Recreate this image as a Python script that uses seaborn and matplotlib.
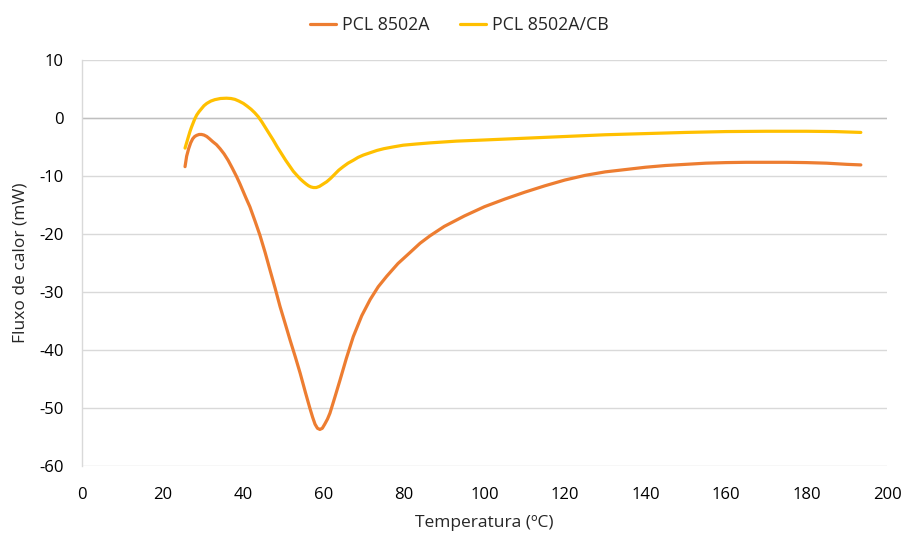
import numpy as np
import pandas as pd
import matplotlib
matplotlib.use("Agg")
import matplotlib.pyplot as plt
import seaborn as sns

# DSC heat-flow curves (temperature in ºC, heat flow in mW)
temp_pcl = [25.6, 26.0, 26.5, 27.0, 27.5, 28.0, 28.5, 29.1, 29.7, 30.3, 31, 31.7, 32.5,
            33.4, 34.3, 35.3, 36.3, 37.3, 38.4, 39.2, 40, 40.8, 41.7, 43, 44.2,
            45.5, 46.7, 48, 49.2, 50.5, 51.7, 53, 54.2, 55.5, 56.6, 57.3, 57.9, 58.5,
            59.1, 59.7, 60.3, 61.0, 61.6, 62.8, 64.1, 65.7, 67.4, 69.5, 71.6, 73.6, 75.7,
            78.5, 81.5, 84, 86.5, 90, 95, 100, 105, 110, 115, 120, 125, 130, 135, 140,
            145, 150, 155, 160, 165, 170, 175, 180, 185, 190, 193.5]
flow_pcl = [-8.4, -6.6, -5.3, -4.3, -3.6, -3.2, -3.0, -2.85, -2.85, -2.95, -3.2, -3.6, -4.1,
            -4.6, -5.3, -6.2, -7.3, -8.6, -10.1, -11.3, -12.6, -13.9, -15.3, -17.8,
            -20.2, -23.2, -26.2, -29.4, -32.5, -35.5, -38.3, -41.2, -44.0, -47.3, -50.0,
            -51.6, -52.8, -53.5, -53.7, -53.5, -52.8, -51.9, -50.9, -48.2, -45.2, -41.4,
            -37.7, -34.1, -31.3, -29.1, -27.3, -25.1, -23.2, -21.6, -20.3, -18.7, -16.9,
            -15.3, -14.0, -12.8, -11.7, -10.7, -9.9, -9.3, -8.9, -8.5, -8.2, -8.0, -7.8,
            -7.7, -7.65, -7.65, -7.65, -7.7, -7.8, -8.0, -8.1]

temp_cb = [25.6, 25.9, 26.2, 26.5, 26.8, 27.2, 27.6, 28.0, 28.5, 29.1, 29.7, 30.3, 31,
           32, 33, 34.4, 35.9, 37, 38, 39, 40.1, 41, 42, 42.9, 43.8, 44.7, 45.6, 46.5,
           47.5, 48.5, 49.6, 50.6, 51.7, 52.5, 53.4, 54.2, 55, 55.7, 56.3, 56.9, 57.5,
           58.2, 59, 59.9, 60.8, 61.8, 62.8, 63.8, 64.9, 66.1, 67.4, 68.6, 69.9, 71.6,
           73.3, 75, 77.3, 79.8, 83, 86.5, 93, 100, 110, 120, 130, 140, 150, 160, 170,
           180, 187, 193.5]
flow_cb = [-5.2, -4.5, -3.8, -3.1, -2.4, -1.6, -0.9, -0.2, 0.5, 1.1, 1.6, 2.1, 2.5,
           2.9, 3.15, 3.35, 3.4, 3.35, 3.2, 2.9, 2.5, 2.05, 1.5, 0.9, 0.2, -0.7, -1.7,
           -2.7, -3.8, -5.0, -6.2, -7.3, -8.4, -9.2, -9.9, -10.5, -11.0, -11.4, -11.7,
           -11.9, -12.0, -12.0, -11.8, -11.4, -11.0, -10.4, -9.7, -9.0, -8.4, -7.8, -7.3,
           -6.8, -6.4, -6.0, -5.6, -5.3, -5.0, -4.7, -4.5, -4.3, -4.0, -3.8, -3.5, -3.2,
           -2.9, -2.7, -2.5, -2.35, -2.3, -2.3, -2.35, -2.5]

series_names = ["PCL 8502A", "PCL 8502A/CB"]
x_ticks = list(range(0, 201, 20))
y_ticks = list(range(-60, 11, 10))

df = pd.concat([
    pd.DataFrame({"T": temp_pcl, "Q": flow_pcl, "Amostra": series_names[0]}),
    pd.DataFrame({"T": temp_cb, "Q": flow_cb, "Amostra": series_names[1]}),
], ignore_index=True)

sns.set_theme(style="white")
plt.rcParams["font.family"] = ["Open Sans", "DejaVu Sans"]
plt.rcParams["axes.unicode_minus"] = False

fig = plt.figure(figsize=(9.09, 5.35), dpi=100)
ax = fig.add_axes([0.0902, 0.129, 0.8856, 0.759])

palette = {series_names[0]: "#ED7D31", series_names[1]: "#FFC000"}
sns.lineplot(data=df, x="T", y="Q", hue="Amostra", palette=palette, sort=False,
             linewidth=2.3, ax=ax, legend=False, zorder=3)
for line in ax.lines:
    line.set_solid_joinstyle("round")
    line.set_solid_capstyle("round")

ax.set_xlim(0, 200)
ax.set_ylim(-60, 10)
ax.set_xticks(x_ticks)
ax.set_yticks(y_ticks)
ax.yaxis.grid(True, color="#d9d9d9", linewidth=1.0, zorder=0)
ax.xaxis.grid(False)
ax.axhline(0, color="#bfbfbf", linewidth=1.0, zorder=1)

for side in ["top", "right", "bottom"]:
    ax.spines[side].set_visible(False)
ax.spines["left"].set_color("#d9d9d9")
ax.spines["left"].set_linewidth(1.0)

ax.tick_params(axis="both", length=0, labelsize=12, colors="#000000")
ax.tick_params(axis="x", pad=15)
ax.tick_params(axis="y", pad=13)
ax.set_xlabel("Temperatura (ºC)", fontsize=12.5, labelpad=9)
ax.set_ylabel("Fluxo de calor (mW)", fontsize=12.5, labelpad=8)

handles = [plt.Line2D([], [], color=palette[n], linewidth=2.3) for n in series_names]
fig.legend(handles, series_names, loc="upper center", bbox_to_anchor=(0.505, 1.0),
           ncol=2, frameon=False, fontsize=12.8, handlelength=1.5, handletextpad=0.3,
           columnspacing=1.7)

fig.savefig("out.png", dpi=100, facecolor="white")
